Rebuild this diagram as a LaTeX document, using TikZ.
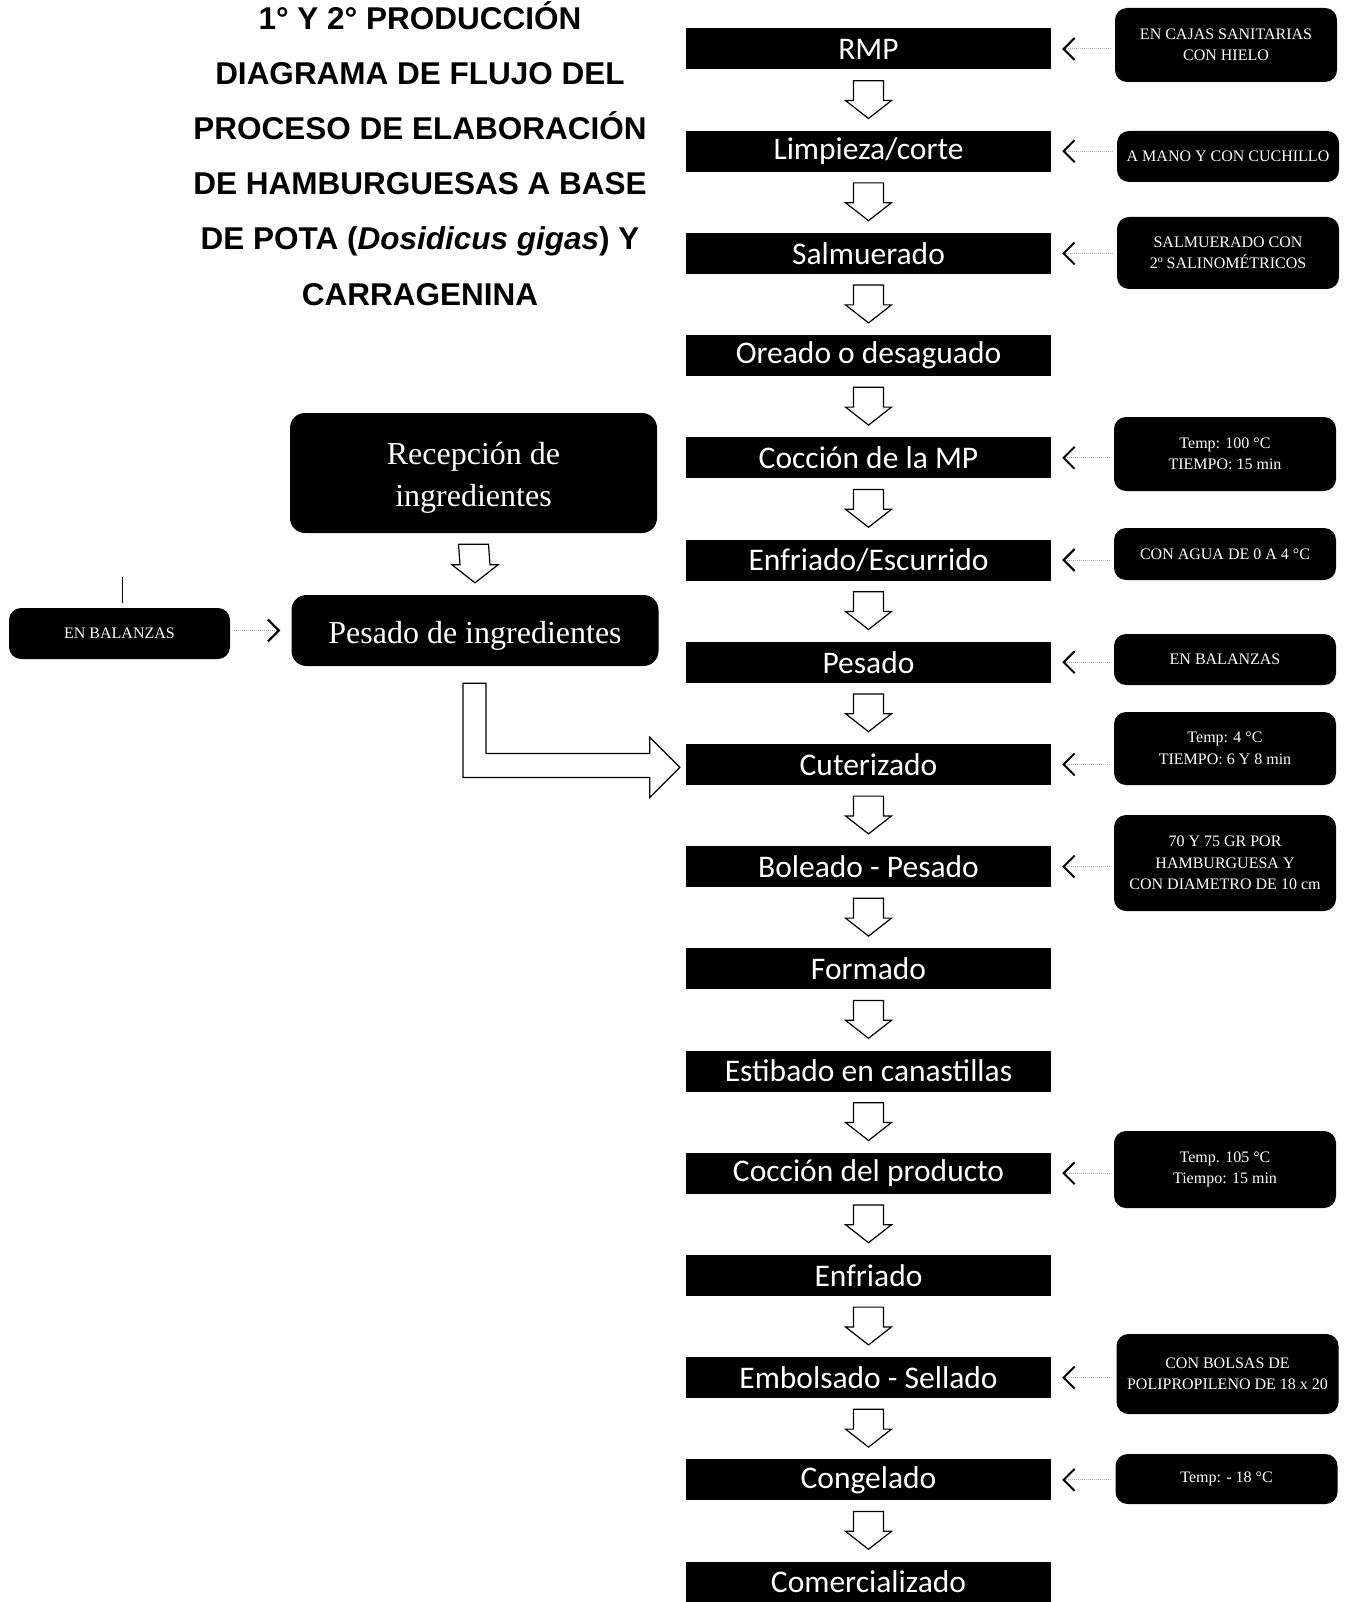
\documentclass[tikz,border=0pt]{standalone}
\usepackage{fontspec}
\setmainfont{Liberation Serif}
\newfontfamily\calibrifont{Carlito}
\newfontfamily\arialfont{Liberation Sans}
\usetikzlibrary{arrows.meta,positioning,calc}

\begin{document}
\begin{tikzpicture}[
        x=1pt, y=-1pt,
        stepbox/.style={fill=black, text=white, minimum width=365pt, minimum height=41pt,
            inner sep=0pt, font=\calibrifont\fontsize{31.5}{36}\selectfont},
        note/.style={fill=black, text=white, rounded corners=12pt, minimum width=222pt,
            inner sep=2pt, align=center, font=\fontsize{16}{21.5}\selectfont},
        ingbox/.style={fill=black, text=white, rounded corners=15pt, minimum width=367pt,
            inner sep=2pt, align=center, font=\fontsize{32}{42}\selectfont},
        flow/.style={draw=black, fill=white, line width=1.2pt, line join=miter,
            to path={($(\tikztostart)+(-15,11)$) -- ($(\tikztostart)+(15,11)$)
                -- ($(\tikztotarget)+(15,-30)$) -- ($(\tikztotarget)+(23,-30)$)
                -- ($(\tikztotarget)+(0,-12)$) -- ($(\tikztotarget)+(-23,-30)$)
                -- ($(\tikztotarget)+(-15,-30)$) -- cycle}},
        bent/.style={draw=black, fill=white, line width=1.2pt, line join=miter},
        sidearr/.style={draw=black!30, densely dotted, line width=1pt,
            shorten >=11pt, shorten <=4pt,
            -{Straight Barb[length=11pt, width=22pt, line width=2pt, color=black]}},
        title/.style={font=\arialfont\bfseries\fontsize{31.5}{55.2}\selectfont,
            align=center, inner sep=0pt},
    ]
    \useasboundingbox (0,0) rectangle (1347,1602);

    % title
    \node[title, anchor=north] (head) at (420,1) {1° Y 2° PRODUCCIÓN\\
        DIAGRAMA DE FLUJO DEL\\
        PROCESO DE ELABORACIÓN\\
        DE HAMBURGUESAS A BASE\\
        DE POTA (\textit{Dosidicus gigas}) Y\\
        CARRAGENINA};

    % main process column
    \node[stepbox] (rmp)   at (868.5,49)     {RMP};
    \node[stepbox] (limp)  at (868.5,151.2)  {Limpieza/corte};
    \node[stepbox] (salm)  at (868.5,253.4)  {Salmuerado};
    \node[stepbox] (orea)  at (868.5,355.6)  {Oreado o desaguado};
    \node[stepbox] (coccmp) at (868.5,457.8) {Cocción de la MP};
    \node[stepbox] (enfr)  at (868.5,560)    {Enfriado/Escurrido};
    \node[stepbox] (pes)   at (868.5,662.2)  {Pesado};
    \node[stepbox] (cut)   at (868.5,764.4)  {Cuterizado};
    \node[stepbox] (bol)   at (868.5,866.6)  {Boleado - Pesado};
    \node[stepbox] (form)  at (868.5,968.8)  {Formado};
    \node[stepbox] (esti)  at (868.5,1071)   {Estibado en canastillas};
    \node[stepbox] (coccp) at (868.5,1173.2) {Cocción del producto};
    \node[stepbox] (enfrp) at (868.5,1275.4) {Enfriado};
    \node[stepbox] (embo)  at (868.5,1377.6) {Embolsado - Sellado};
    \node[stepbox] (cong)  at (868.5,1479.8) {Congelado};
    \node[stepbox] (come)  at (868.5,1582)   {Comercializado};

    \draw[flow] (rmp.south) to (limp.north);
    \draw[flow] (limp.south) to (salm.north);
    \draw[flow] (salm.south) to (orea.north);
    \draw[flow] (orea.south) to (coccmp.north);
    \draw[flow] (coccmp.south) to (enfr.north);
    \draw[flow] (enfr.south) to (pes.north);
    \draw[flow] (pes.south) to (cut.north);
    \draw[flow] (cut.south) to (bol.north);
    \draw[flow] (bol.south) to (form.north);
    \draw[flow] (form.south) to (esti.north);
    \draw[flow] (esti.south) to (coccp.north);
    \draw[flow] (coccp.south) to (enfrp.north);
    \draw[flow] (enfrp.south) to (embo.north);
    \draw[flow] (embo.south) to (cong.north);
    \draw[flow] (cong.south) to (come.north);

    % conditions on the right
    \node[note, minimum height=74pt] (nrmp) at (1226,45) {EN CAJAS SANITARIAS\\CON HIELO};
    \node[note, minimum height=51pt] (nlimp) at (1228,156.5) {A MANO Y CON CUCHILLO};
    \node[note, minimum height=72pt] (nsalm) at (1228,253) {SALMUERADO CON\\2º SALINOMÉTRICOS};
    \node[note, minimum height=74pt] (ncoccmp) at (1225,454) {Temp: 100 °C\\TIEMPO: 15 min};
    \node[note, minimum height=52pt] (nenfr) at (1225,554) {CON AGUA DE 0 A 4 °C};
    \node[note, minimum height=51pt] (npes) at (1225,659.5) {EN BALANZAS};
    \node[note, minimum height=73pt] (ncut) at (1225,748.5) {Temp: 4 °C\\TIEMPO: 6 Y 8 min};
    \node[note, minimum height=96pt] (nbol) at (1225,863) {70 Y 75 GR POR\\HAMBURGUESA Y\\CON DIAMETRO DE 10 cm};
    \node[note, minimum height=77pt] (ncoccp) at (1225,1169.5) {Temp. 105 °C\\Tiempo: 15 min};
    \node[note, minimum height=80pt] (nembo) at (1227.5,1374) {CON BOLSAS DE\\POLIPROPILENO DE 18 x 20};
    \node[note, minimum height=50pt] (ncong) at (1226.5,1479) {Temp: - 18 °C};

    \draw[sidearr] (nrmp.west |- rmp.east) -- (rmp.east);
    \draw[sidearr] (nlimp.west |- limp.east) -- (limp.east);
    \draw[sidearr] (nsalm.west |- salm.east) -- (salm.east);
    \draw[sidearr] (ncoccmp.west |- coccmp.east) -- (coccmp.east);
    \draw[sidearr] (nenfr.west |- enfr.east) -- (enfr.east);
    \draw[sidearr] (npes.west |- pes.east) -- (pes.east);
    \draw[sidearr] (ncut.west |- cut.east) -- (cut.east);
    \draw[sidearr] (nbol.west |- bol.east) -- (bol.east);
    \draw[sidearr] (ncoccp.west |- coccp.east) -- (coccp.east);
    \draw[sidearr] (nembo.west |- embo.east) -- (embo.east);
    \draw[sidearr] (ncong.west |- cong.east) -- (cong.east);

    % ingredients branch
    \node[ingbox, minimum height=120pt] (ring) at (473.5,473) {\rule{0pt}{32pt}Recepción de\\ingredientes};
    \node[ingbox, minimum height=71pt, text height=32pt, text depth=7pt] (ping) at (475,630.5) {Pesado de ingredientes};
    \node[note, minimum width=221pt, minimum height=51pt] (nbal) at (119.5,633.5) {EN BALANZAS};

    \draw[flow] (ring.south) to (ping.north);
    \draw[sidearr] (nbal.east |- ping.west) -- (ping.west);
    \draw[line width=1.5pt] ($(nbal.north)+(3,-5)$) -- ++(0,-26);

    % bent arrow into the cutter
    \coordinate (btop) at ($(ping.south)+(0,17)$);
    \coordinate (tip) at ($(cut.west)+(-6,3)$);
    \draw[bent] (tip) -- ++(-30,-30) -- ++(0,16) -| ($(btop)+(11,0)$) -- ++(-23,0)
        |- ($(tip)+(-30,10)$) -- ++(0,20) -- cycle;
\end{tikzpicture}
\end{document}
